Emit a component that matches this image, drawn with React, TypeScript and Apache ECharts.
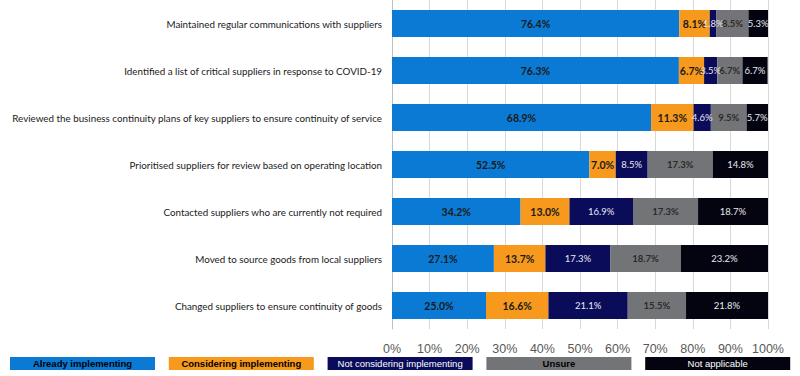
import React, { useEffect, useRef } from "react";
import * as echarts from "echarts";

const categories = [
  "Maintained regular communications with suppliers",
  "Identified a list of critical suppliers in response to COVID-19",
  "Reviewed the business continuity plans of key suppliers to ensure continuity of service",
  "Prioritised suppliers for review based on operating location",
  "Contacted suppliers who are currently not required",
  "Moved to source goods from local suppliers",
  "Changed suppliers to ensure continuity of goods",
];

const seriesNames = [
  "Already implementing",
  "Considering implementing",
  "Not considering implementing",
  "Unsure",
  "Not applicable",
];

const alreadyImplementing = [76.4, 76.3, 68.9, 52.5, 34.2, 27.1, 25.0];
const consideringImplementing = [8.1, 6.7, 11.3, 7.0, 13.0, 13.7, 16.6];
const notConsidering = [1.8, 3.5, 4.6, 8.5, 16.9, 17.3, 21.1];
const unsure = [8.5, 6.7, 9.5, 17.3, 17.3, 18.7, 15.5];
const notApplicable = [5.3, 6.7, 5.7, 14.8, 18.7, 23.2, 21.8];

const xTicks = [0, 10, 20, 30, 40, 50, 60, 70, 80, 90, 100];

const seriesValues = [alreadyImplementing, consideringImplementing, notConsidering, unsure, notApplicable];
const colors = ["#0A7AD4", "#F7991C", "#0A0C5A", "#737477", "#03040F"];
const labelColors = ["#1a1a1a", "#1a1a1a", "#e8e8f0", "#2a2a2a", "#e8e8f0"];
const labelWeights = ["bold", "bold", "normal", "bold", "normal"];
const legendTextColors = ["#000000", "#000000", "#ffffff", "#000000", "#ffffff"];

export default function App() {
  const ref = useRef<HTMLDivElement>(null);
  useEffect(() => {
    if (!ref.current) return;
    const chart = echarts.init(ref.current, null, { renderer: "svg" });
    const legendGraphics = seriesNames.map((name, i) => ({
      type: "group",
      left: 10 + i * 158.8,
      top: 357,
      children: [
        {
          type: "rect",
          shape: { x: 0, y: 0, width: 145, height: 13 },
          style: { fill: colors[i] },
        },
        {
          type: "text",
          x: 72.5,
          y: 6.5,
          style: {
            text: name,
            fill: legendTextColors[i],
            fontSize: 9.5,
            fontWeight: i === 2 || i === 4 ? "normal" : "bold",
            fontFamily: "Liberation Sans Narrow, Liberation Sans, Arial",
            align: "center",
            verticalAlign: "middle",
          },
        },
      ],
    }));
    chart.setOption({
      animation: false,
      grid: { left: 392, right: 32, top: 0, bottom: 47, containLabel: false, outerBoundsMode: "none" },
      xAxis: {
        type: "value",
        min: 0,
        max: 100,
        interval: 10,
        axisLine: { show: false },
        axisTick: { show: false },
        splitLine: { show: true, lineStyle: { color: "#d9d9d9", width: 1 } },
        axisLabel: {
          formatter: (v: number) => (xTicks.includes(v) ? v + "%" : ""),
          color: "#595959",
          fontSize: 12.5,
          fontFamily: "Liberation Sans Narrow, Liberation Sans, Arial",
          margin: 13,
        },
      },
      yAxis: {
        type: "category",
        data: categories,
        inverse: true,
        axisLine: { show: true, lineStyle: { color: "#bfbfbf", width: 1 } },
        axisTick: { show: false },
        axisLabel: {
          color: "#1a1a1a",
          fontSize: 9.8,
          fontFamily: "Lato, Open Sans, sans-serif",
          margin: 10,
        },
      },
      series: seriesNames.map((name, i) => ({
        name,
        type: "bar",
        stack: "total",
        barWidth: 27,
        data: seriesValues[i],
        itemStyle: { color: colors[i] },
        label: {
          show: true,
          position: "inside",
          formatter: (p: any) => Number(p.value).toFixed(1) + "%",
          color: labelColors[i],
          fontSize: i === 0 || i === 1 ? 10.5 : 9.5,
          fontWeight: labelWeights[i],
          fontFamily: "Lato, Open Sans, sans-serif",
        },
      })),
      graphic: legendGraphics,
    });
    return () => chart.dispose();
  }, []);
  return <div ref={ref} style={{ width: 800, height: 376, position: "absolute", left: 0, top: 0 }} />;
}
